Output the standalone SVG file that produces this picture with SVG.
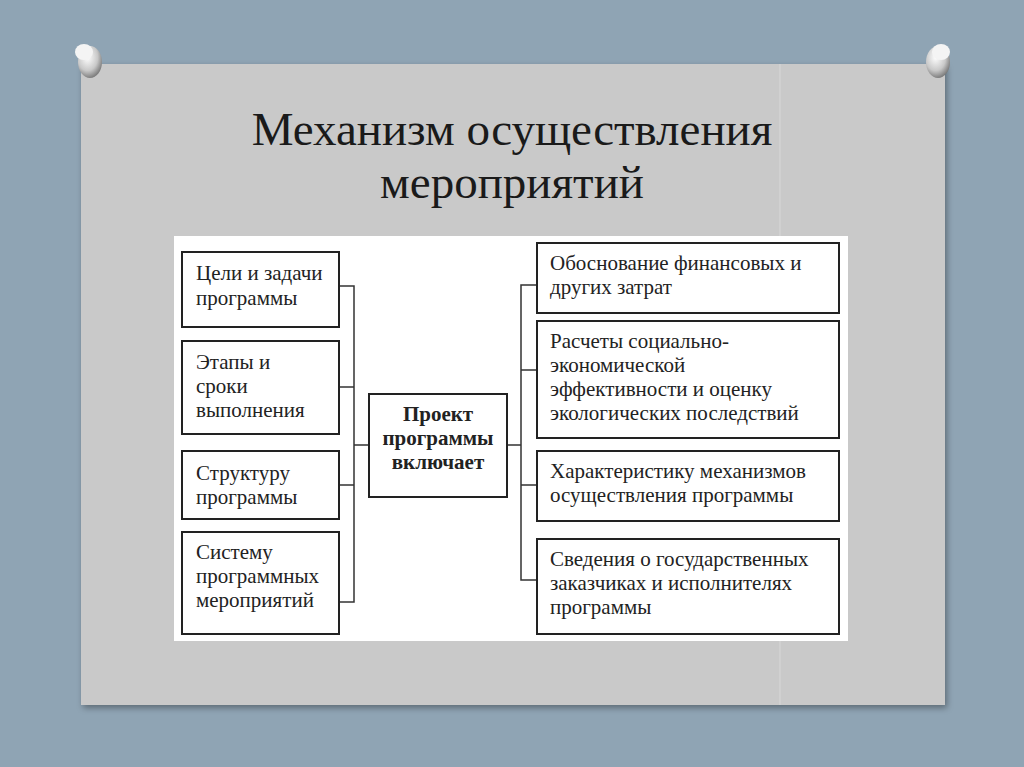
<svg xmlns="http://www.w3.org/2000/svg" width="1024" height="767" viewBox="0 0 1024 767">
<defs>
<radialGradient id="pin" cx="0.4" cy="0.35" r="0.7"><stop offset="0" stop-color="#ffffff"/><stop offset="0.6" stop-color="#c8c8c8"/><stop offset="1" stop-color="#707070"/></radialGradient>
<filter id="sh" x="-5%" y="-5%" width="110%" height="110%"><feDropShadow dx="2" dy="3" stdDeviation="3" flood-color="#000" flood-opacity="0.35"/></filter>
</defs>
<style>
.b{fill:#fff;stroke:#222;stroke-width:2}
.t{font-family:"Liberation Serif",serif;font-size:21px;fill:#222}
.c{fill:none;stroke:#333;stroke-width:1.5}
.h{font-family:"Liberation Serif",serif;font-size:47px;fill:#1a1a1a;text-anchor:middle}
</style>
<rect width="1024" height="767" fill="#8fa4b4"/>
<rect x="81" y="64" width="864" height="641" fill="#c9c9c9" filter="url(#sh)"/>
<line x1="780" y1="64" x2="780" y2="705" stroke="#d8d8d8" stroke-width="1"/>
<g><ellipse cx="90" cy="62" rx="12" ry="16" fill="url(#pin)"/><ellipse cx="84" cy="52" rx="9" ry="8" fill="#f4f4f4"/></g>
<g><ellipse cx="938" cy="62" rx="12" ry="16" fill="url(#pin)"/><ellipse cx="941" cy="52" rx="9" ry="8" fill="#f4f4f4"/></g>
<text class="h" x="512" y="145">Механизм осуществления</text>
<text class="h" x="512" y="198">мероприятий</text>
<rect x="174" y="236" width="674" height="405" fill="#fff"/>
<g id="connectors">
<path class="c" d="M339 286H354V602H339M339 387H354M339 485H354M354 445H369"/>
<path class="c" d="M537 285H521V580H537M537 370H521M537 485H521M507 445H521"/>
</g>
<g id="n1"><rect class="b" x="182" y="252" width="157" height="75"/><text class="t" x="196" y="280">Цели и задачи</text><text class="t" x="196" y="305">программы</text></g>
<g id="n2"><rect class="b" x="182" y="341" width="157" height="93"/><text class="t" x="196" y="369">Этапы и</text><text class="t" x="196" y="393">сроки</text><text class="t" x="196" y="417">выполнения</text></g>
<g id="n3"><rect class="b" x="182" y="451" width="157" height="68"/><text class="t" x="196" y="480">Структуру</text><text class="t" x="196" y="504">программы</text></g>
<g id="n4"><rect class="b" x="182" y="532" width="157" height="102"/><text class="t" x="196" y="559">Систему</text><text class="t" x="196" y="583">программных</text><text class="t" x="196" y="607">мероприятий</text></g>
<g id="center"><rect class="b" x="369" y="394" width="138" height="103"/><text class="t" x="438" y="421" text-anchor="middle" font-weight="bold">Проект</text><text class="t" x="438" y="445" text-anchor="middle" font-weight="bold">программы</text><text class="t" x="438" y="469" text-anchor="middle" font-weight="bold">включает</text></g>
<g id="r1"><rect class="b" x="537" y="243" width="302" height="70"/><text class="t" x="550" y="270">Обоснование финансовых и</text><text class="t" x="550" y="294">других затрат</text></g>
<g id="r2"><rect class="b" x="537" y="321" width="302" height="117"/><text class="t" x="550" y="348">Расчеты социально-</text><text class="t" x="550" y="372">экономической</text><text class="t" x="550" y="396">эффективности и оценку</text><text class="t" x="550" y="420">экологических последствий</text></g>
<g id="r3"><rect class="b" x="537" y="451" width="302" height="70"/><text class="t" x="550" y="478">Характеристику механизмов</text><text class="t" x="550" y="502">осуществления программы</text></g>
<g id="r4"><rect class="b" x="537" y="539" width="302" height="95"/><text class="t" x="550" y="566">Сведения о государственных</text><text class="t" x="550" y="590">заказчиках и исполнителях</text><text class="t" x="550" y="614">программы</text></g>
</svg>
